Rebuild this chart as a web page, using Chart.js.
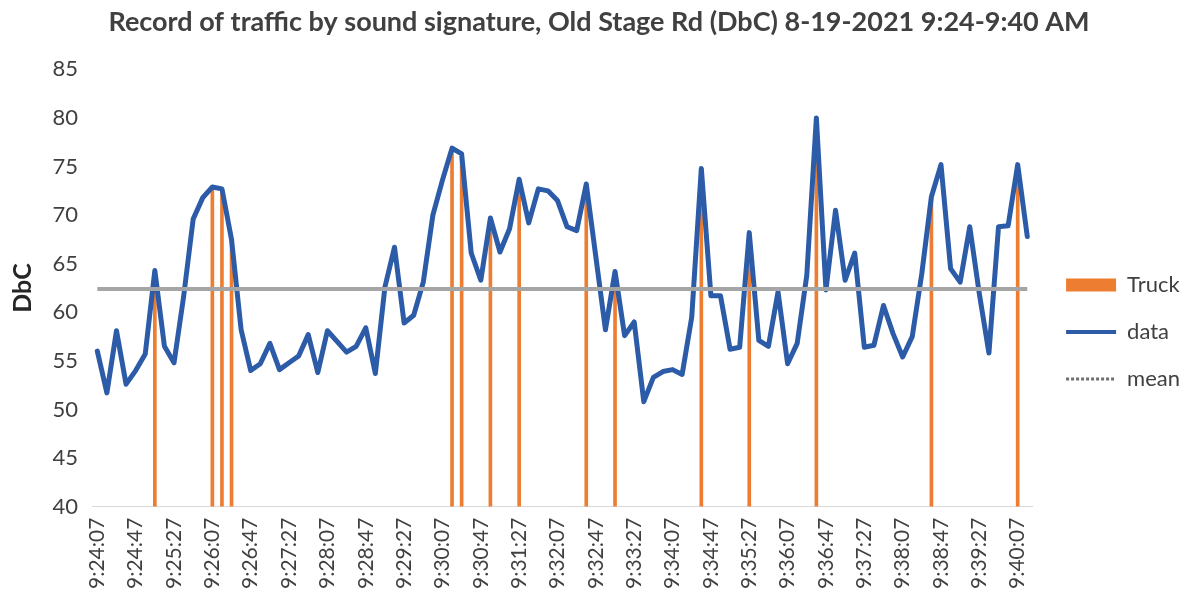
<!DOCTYPE html>
<html>
<head>
<meta charset="utf-8">
<title>Old Stage Rd traffic record</title>
<script src="https://cdn.jsdelivr.net/npm/chart.js@4.4.0/dist/chart.umd.min.js"></script>
<style>
  html, body { margin: 0; padding: 0; background: #fff; }
</style>
</head>
<body>
<canvas id="trafficChart" width="1190" height="600"></canvas>
<script>
// one reading every 10 seconds
const times = [
  '9:24:07', '9:24:17', '9:24:27', '9:24:37', '9:24:47', '9:24:57',
  '9:25:07', '9:25:17', '9:25:27', '9:25:37', '9:25:47', '9:25:57',
  '9:26:07', '9:26:17', '9:26:27', '9:26:37', '9:26:47', '9:26:57',
  '9:27:07', '9:27:17', '9:27:27', '9:27:37', '9:27:47', '9:27:57',
  '9:28:07', '9:28:17', '9:28:27', '9:28:37', '9:28:47', '9:28:57',
  '9:29:07', '9:29:17', '9:29:27', '9:29:37', '9:29:47', '9:29:57',
  '9:30:07', '9:30:17', '9:30:27', '9:30:37', '9:30:47', '9:30:57',
  '9:31:07', '9:31:17', '9:31:27', '9:31:37', '9:31:47', '9:31:57',
  '9:32:07', '9:32:17', '9:32:27', '9:32:37', '9:32:47', '9:32:57',
  '9:33:07', '9:33:17', '9:33:27', '9:33:37', '9:33:47', '9:33:57',
  '9:34:07', '9:34:17', '9:34:27', '9:34:37', '9:34:47', '9:34:57',
  '9:35:07', '9:35:17', '9:35:27', '9:35:37', '9:35:47', '9:35:57',
  '9:36:07', '9:36:17', '9:36:27', '9:36:37', '9:36:47', '9:36:57',
  '9:37:07', '9:37:17', '9:37:27', '9:37:37', '9:37:47', '9:37:57',
  '9:38:07', '9:38:17', '9:38:27', '9:38:37', '9:38:47', '9:38:57',
  '9:39:07', '9:39:17', '9:39:27', '9:39:37', '9:39:47', '9:39:57',
  '9:40:07', '9:40:17'
];

const dbc = [
  56.0, 51.7, 58.1, 52.6, 54.0, 55.7, 64.3, 56.5, 54.8, 61.6,
  69.6, 71.8, 72.9, 72.7, 67.5, 58.2, 54.0, 54.7, 56.8, 54.1,
  54.8, 55.5, 57.7, 53.8, 58.1, 57.0, 55.9, 56.5, 58.4, 53.7,
  62.6, 66.7, 58.9, 59.7, 63.1, 70.0, 73.6, 76.9, 76.3, 66.1,
  63.3, 69.7, 66.2, 68.6, 73.7, 69.2, 72.7, 72.5, 71.5, 68.8,
  68.4, 73.2, 65.7, 58.2, 64.2, 57.6, 59.0, 50.8, 53.3, 53.9,
  54.1, 53.6, 59.5, 74.8, 61.7, 61.7, 56.2, 56.4, 68.2, 57.1,
  56.5, 62.1, 54.7, 56.8, 63.8, 80.0, 62.3, 70.5, 63.3, 66.1,
  56.4, 56.6, 60.7, 57.8, 55.4, 57.5, 64.0, 71.9, 75.2, 64.5,
  63.1, 68.8, 61.9, 55.8, 68.8, 68.9, 75.2, 67.8
];

// readings where a truck was heard
const truckTimes = [
  '9:25:07', '9:26:07', '9:26:17', '9:26:27', '9:30:17', '9:30:27',
  '9:30:57', '9:31:27', '9:32:37', '9:33:07', '9:34:37', '9:35:27',
  '9:36:37', '9:38:37', '9:40:07'
];

const meanLevel = 62.4;

const yMin = 40;
const yMax = 85;
const yStep = 5;

const FONT = 'Lato, "Open Sans", sans-serif';
const TEXT = '#404040';

const truckData = times.map((t, i) => (truckTimes.includes(t) ? dbc[i] : null));
const meanData = times.map(() => meanLevel);

const ctx = document.getElementById('trafficChart');

new Chart(ctx, {
  type: 'bar',
  data: {
    labels: times,
    datasets: [
      {
        label: 'Truck',
        data: truckData,
        backgroundColor: '#ED7D31',
        borderWidth: 0,
        barThickness: 3,
        order: 3
      },
      {
        type: 'line',
        label: 'data',
        data: dbc,
        borderColor: '#2C5BA8',
        backgroundColor: '#2C5BA8',
        borderWidth: 5,
        borderJoinStyle: 'round',
        borderCapStyle: 'round',
        pointRadius: 0,
        tension: 0,
        order: 2
      },
      {
        type: 'line',
        label: 'mean',
        data: meanData,
        borderColor: '#A5A5A5',
        backgroundColor: '#A5A5A5',
        borderWidth: 4,
        pointRadius: 0,
        order: 1
      }
    ]
  },
  options: {
    responsive: false,
    animation: false,
    layout: {
      padding: { left: 8, right: 0, top: 0, bottom: 8 }
    },
    plugins: {
      title: {
        display: true,
        text: 'Record of traffic by sound signature, Old Stage Rd (DbC) 8-19-2021 9:24-9:40 AM',
        color: TEXT,
        font: { family: FONT, size: 27, weight: 'bold' },
        padding: { top: 6, bottom: 31 }
      },
      legend: {
        position: 'right',
        // empty title only pushes the items down to where the original sits
        title: { display: true, text: '', font: { size: 60 }, padding: 0 },
        labels: {
          usePointStyle: true,
          pointStyleWidth: 50,
          boxHeight: 13,
          padding: 25,
          color: TEXT,
          font: { family: FONT, size: 22 },
          sort: (a, b) => a.datasetIndex - b.datasetIndex,
          generateLabels(chart) {
            const items = Chart.defaults.plugins.legend.labels.generateLabels(chart);
            items.forEach(item => {
              if (item.text === 'Truck') {
                item.pointStyle = 'rect';
                item.lineWidth = 0;
              } else if (item.text === 'data') {
                item.pointStyle = 'line';
                item.lineWidth = 4;
              } else {
                item.pointStyle = 'line';
                item.strokeStyle = '#6F6F6F';
                item.lineWidth = 3;
                item.lineDash = [3, 2];
              }
            });
            return items;
          }
        }
      },
      tooltip: { enabled: false }
    },
    scales: {
      x: {
        grid: { display: false },
        border: { color: '#D9D9D9', dash: [5, 4] },
        ticks: {
          autoSkip: false,
          minRotation: 90,
          maxRotation: 90,
          color: TEXT,
          font: { family: FONT, size: 21 },
          callback(value, index) {
            return index % 4 === 0 ? this.getLabelForValue(value) : '';
          }
        }
      },
      y: {
        min: yMin,
        max: yMax,
        grid: { display: false },
        border: { display: false },
        ticks: {
          stepSize: yStep,
          color: TEXT,
          padding: 6.5,
          font: { family: FONT, size: 22 }
        },
        title: {
          display: true,
          text: 'DbC',
          color: '#262626',
          font: { family: FONT, size: 25, weight: 'bold' },
          padding: { top: 0, bottom: 8 }
        }
      },
      // blank strip between plot and legend
      gap: {
        position: 'right',
        display: true,
        grid: { display: false },
        border: { display: false },
        ticks: { display: false },
        afterFit(scale) {
          scale.width = 9;
        }
      }
    }
  }
});
</script>
</body>
</html>
